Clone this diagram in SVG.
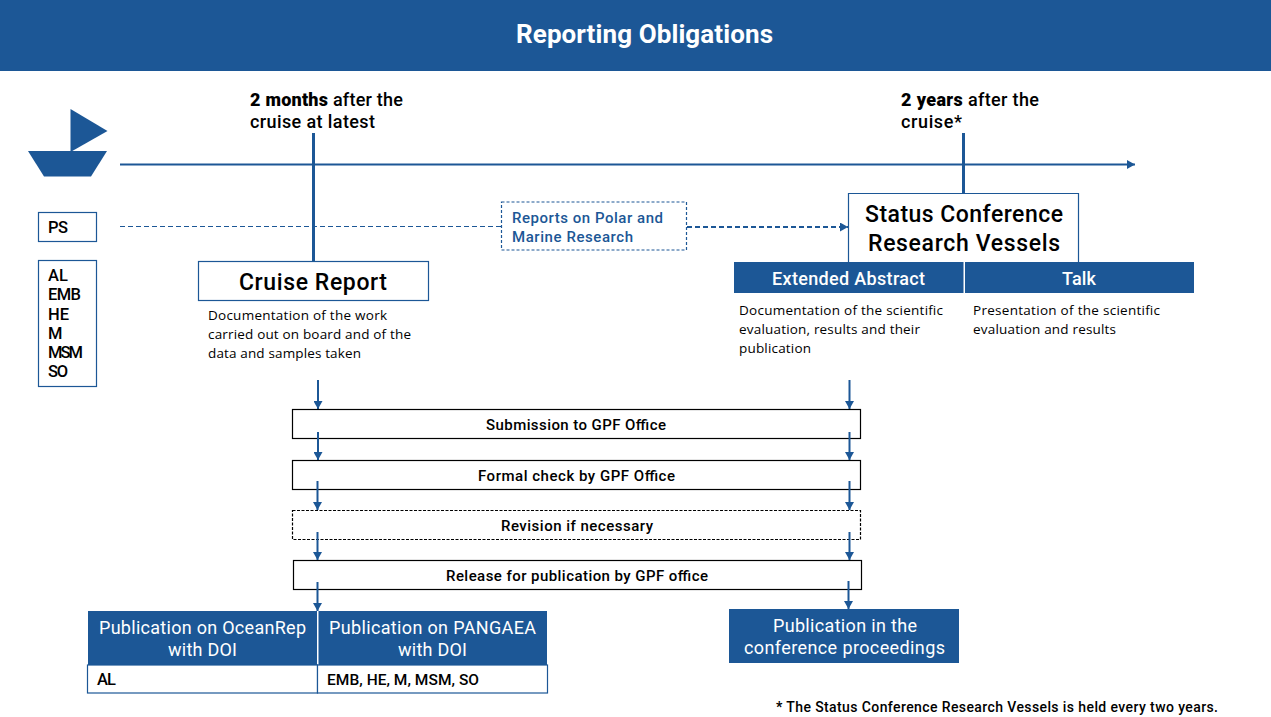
<svg xmlns="http://www.w3.org/2000/svg" width="1271" height="717" viewBox="0 0 1271 717">
<style>
text{font-family:Roboto,"Liberation Sans",sans-serif;fill:#000}
.b{stroke:#1c5796;fill:#fff;stroke-width:1.2}
.k{stroke:#000;fill:#fff;stroke-width:1.2}
.f{fill:#1c5796}
.w{fill:#fff;font-size:18px}
.lab{font-size:18px;font-weight:500}
.lst{font-size:16.5px;font-weight:500}
.d{font-family:"Open Sans","Liberation Sans",sans-serif;font-size:13.5px}
.s{font-size:15px;font-weight:500;text-anchor:middle}
.c{stroke:#1c5796;fill:none;stroke-width:2}
</style>
<defs>
<marker id="a" markerUnits="userSpaceOnUse" markerWidth="9" markerHeight="9" refX="8" refY="4.500" orient="auto"><path d="M0 0L8 4.500L0 9z" fill="#1c5796"/></marker>
</defs>
<rect width="1271" height="717" fill="#fff"/>
<g id="header"><rect class="f" width="1271" height="71"/><text x="644.500" y="43" text-anchor="middle" font-size="26" font-weight="700" style="fill:#fff" textLength="257">Reporting Obligations</text></g>
<g id="ship"><path class="f" d="M70.500 109L107.500 131L70.500 152z"/><path class="f" d="M28 151H107L91 176.500H44z"/></g>
<g id="connectors">
<path class="c" d="M120 164.500H1135" marker-end="url(#a)"/>
<path class="c" style="stroke-width:3" d="M313.500 133V262"/>
<path class="c" style="stroke-width:3" d="M963.500 133V194"/>
<path class="c" style="stroke-width:1.200" stroke-dasharray="5 3" d="M120 226.500H502"/>
<path class="c" style="stroke-width:1.800" stroke-dasharray="5 3" d="M687 227H848" marker-end="url(#a)"/>
<path class="c" d="M318 380V409" marker-end="url(#a)"/><path class="c" d="M849.500 380V409" marker-end="url(#a)"/>
</g>
<g id="label-2months"><text class="lab" x="250" y="106" textLength="153"><tspan font-weight="900">2 months</tspan> after the</text><text class="lab" x="250" y="128" textLength="125">cruise at latest</text></g>
<g id="label-2years"><text class="lab" x="901" y="106" textLength="138"><tspan font-weight="900">2 years</tspan> after the</text><text class="lab" x="901" y="128" textLength="61">cruise*</text></g>
<g id="ps"><rect class="b" x="38.500" y="212.500" width="58" height="29"/><text class="lst" x="48" y="233" textLength="20">PS</text></g>
<g id="vessels"><rect class="b" x="38.500" y="260.500" width="58" height="126"/>
<text class="lst" x="48" y="281" textLength="20">AL</text><text class="lst" x="48" y="300" textLength="33">EMB</text><text class="lst" x="48" y="320" textLength="21">HE</text><text class="lst" x="48" y="339" textLength="12">M</text><text class="lst" x="48" y="358" textLength="35">MSM</text><text class="lst" x="48" y="377" textLength="20">SO</text></g>
<g id="cruise-report"><rect class="b" x="198.500" y="261.500" width="230" height="39"/><text x="313" y="290" text-anchor="middle" font-size="23" font-weight="500" textLength="148">Cruise Report</text>
<text class="d" x="208" y="320" textLength="179">Documentation of the work</text><text class="d" x="208" y="339" textLength="203">carried out on board and of the</text><text class="d" x="208" y="358" textLength="153">data and samples taken</text></g>
<g id="reports"><rect x="501.500" y="202" width="185" height="48" fill="#fff" stroke="#1c5796" stroke-width="1.200" stroke-dasharray="3 2"/><text x="512" y="223" font-size="15" font-weight="500" style="fill:#1c5796" textLength="151">Reports on Polar and</text><text x="512" y="242" font-size="15" font-weight="500" style="fill:#1c5796" textLength="121">Marine Research</text></g>
<g id="status"><path class="b" d="M848.500 262V193.500H1078.500V262"/><text x="964" y="222" text-anchor="middle" font-size="23" font-weight="500" textLength="198">Status Conference</text><text x="964" y="251" text-anchor="middle" font-size="23" font-weight="500" textLength="192">Research Vessels</text></g>
<g id="extended"><rect class="f" x="734" y="262" width="229.500" height="31"/><text class="w" x="848.500" y="285" text-anchor="middle" font-weight="500" textLength="153">Extended Abstract</text>
<text class="d" x="739" y="315" textLength="204">Documentation of the scientific</text><text class="d" x="739" y="334" textLength="181">evaluation, results and their</text><text class="d" x="739" y="353" textLength="72">publication</text></g>
<g id="talk"><rect class="f" x="965" y="262" width="229" height="31"/><text class="w" x="1079" y="285" text-anchor="middle" font-weight="500" textLength="34">Talk</text>
<text class="d" x="973" y="315" textLength="187">Presentation of the scientific</text><text class="d" x="973" y="334" textLength="143">evaluation and results</text></g>
<g id="submission"><rect class="k" x="292.500" y="409.500" width="568" height="29"/><text class="s" x="576" y="430" textLength="180">Submission to GPF Office</text></g>
<g id="formal"><rect class="k" x="292.500" y="460.500" width="568" height="29"/><text class="s" x="576.500" y="481" textLength="197">Formal check by GPF Office</text></g>
<g id="revision"><rect class="k" stroke-dasharray="3 1.500" x="292.500" y="510.500" width="568" height="29"/><text class="s" x="577" y="531" textLength="152">Revision if necessary</text></g>
<g id="release"><rect class="k" x="293.500" y="560.500" width="568" height="29"/><text class="s" x="577" y="581" textLength="262">Release for publication by GPF office</text></g>
<g id="connectors2">
<path class="c" d="M318 432V460" marker-end="url(#a)"/><path class="c" d="M849.500 432V460" marker-end="url(#a)"/>
<path class="c" d="M317.500 481V510" marker-end="url(#a)"/><path class="c" d="M849.500 481V510" marker-end="url(#a)"/>
<path class="c" d="M317.500 532V560" marker-end="url(#a)"/><path class="c" d="M849.500 532V560" marker-end="url(#a)"/>
<path class="c" d="M317.500 582V611" marker-end="url(#a)"/><path class="c" d="M848.500 581V609" marker-end="url(#a)"/>
</g>
<g id="oceanrep"><rect class="f" x="88" y="611" width="229" height="54"/><text class="w" x="202.500" y="634" text-anchor="middle" textLength="207">Publication on OceanRep</text><text class="w" x="202.500" y="656" text-anchor="middle" textLength="69">with DOI</text>
<rect class="b" x="87.500" y="665" width="230" height="28"/><text class="lst" x="97" y="685" textLength="19">AL</text></g>
<g id="pangaea"><rect class="f" x="318.500" y="611" width="228.500" height="54"/><text class="w" x="432.500" y="634" text-anchor="middle" textLength="207">Publication on PANGAEA</text><text class="w" x="432.500" y="656" text-anchor="middle" textLength="69">with DOI</text>
<rect class="b" x="317.500" y="665" width="230" height="28"/><text x="327" y="685" font-size="15.500" font-weight="500" textLength="152">EMB, HE, M, MSM, SO</text></g>
<g id="proceedings"><rect class="f" x="729" y="609" width="230" height="54"/><text class="w" x="845" y="632" text-anchor="middle" textLength="144">Publication in the</text><text class="w" x="844.500" y="654" text-anchor="middle" textLength="201">conference proceedings</text></g>
<g id="footnote"><text x="776" y="712" font-size="14" font-weight="500" textLength="442"><tspan font-weight="700">*</tspan> The Status Conference Research Vessels is held every two years.</text></g>
</svg>
